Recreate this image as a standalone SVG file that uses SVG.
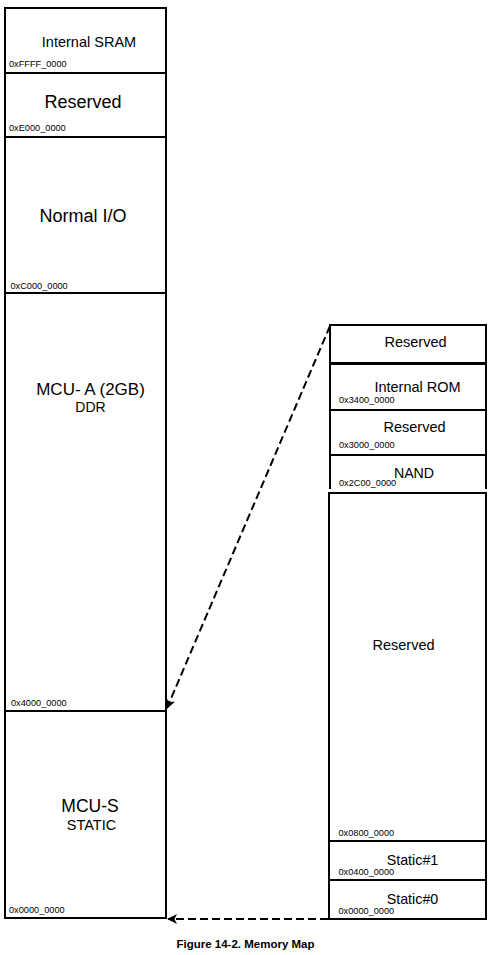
<svg xmlns="http://www.w3.org/2000/svg" width="491" height="955" viewBox="0 0 491 955">
<style>
.box{fill:#fff;stroke:#000;stroke-width:2}
.t{font-family:"Liberation Sans",Arial,sans-serif;fill:#000;text-anchor:middle}
.a{font-family:"Liberation Sans",Arial,sans-serif;fill:#000;font-size:9.2px}
.c{fill:none;stroke:#000;stroke-width:2;stroke-dasharray:8 4}
</style>
<defs>
<marker id="ah" markerWidth="10" markerHeight="10" refX="9" refY="5" orient="auto" markerUnits="userSpaceOnUse">
<path d="M0,0 L10,5 L0,10 L2.5,5 Z" fill="#000"/>
</marker>
</defs>
<rect width="491" height="955" fill="#fff"/>
<g id="left-sram"><rect class="box" x="5" y="8" width="161" height="65"/><text class="t" x="89" y="47" font-size="14.5">Internal SRAM</text><text class="a" x="9" y="67">0xFFFF_0000</text></g>
<g id="left-reserved"><rect class="box" x="5" y="73" width="161" height="64"/><text class="t" x="83" y="108" font-size="18">Reserved</text><text class="a" x="9" y="131">0xE000_0000</text></g>
<g id="left-normalio"><rect class="box" x="5" y="137" width="161" height="156"/><text class="t" x="83" y="222" font-size="18">Normal I/O</text><text class="a" x="10.5" y="289">0xC000_0000</text></g>
<g id="left-mcua"><rect class="box" x="5" y="293" width="161" height="418"/><text class="t" x="90.5" y="395" font-size="17">MCU- A (2GB)</text><text class="t" x="90.5" y="412" font-size="14">DDR</text><text class="a" x="11" y="706">0x4000_0000</text></g>
<g id="left-mcus"><rect class="box" x="5" y="711" width="161" height="207"/><text class="t" x="90" y="812" font-size="17.5">MCU-S</text><text class="t" x="91.5" y="830" font-size="14.5">STATIC</text><text class="a" x="9" y="913">0x0000_0000</text></g>

<g id="right-reserved-top"><rect class="box" x="330" y="325" width="156" height="38"/><text class="t" x="415.5" y="347" font-size="14.5">Reserved</text></g>
<g id="right-rom"><rect class="box" x="330" y="364" width="156" height="46"/><text class="t" x="417.5" y="392" font-size="14.5">Internal ROM</text><text class="a" x="339" y="403">0x3400_0000</text></g>
<g id="right-reserved2"><rect class="box" x="330" y="410" width="156" height="45"/><text class="t" x="414.5" y="432" font-size="14.5">Reserved</text><text class="a" x="339" y="448">0x3000_0000</text></g>
<g id="right-nand"><path d="M330,455 H486 M330,455 V489 M486,455 V489" fill="none" stroke="#000" stroke-width="2"/><text class="t" x="414" y="478" font-size="14.2">NAND</text><text class="a" x="339" y="485.5">0x2C00_0000</text></g>
<g id="right-reserved-big"><rect class="box" x="329" y="493" width="157" height="348"/><text class="t" x="403.5" y="650" font-size="14.5">Reserved</text><text class="a" x="338.5" y="836">0x0800_0000</text></g>
<g id="right-static1"><rect class="box" x="329" y="841" width="157" height="39"/><text class="t" x="412.5" y="865" font-size="14.3">Static#1</text><text class="a" x="338.5" y="875">0x0400_0000</text></g>
<g id="right-static0"><rect class="box" x="329" y="880" width="157" height="39"/><text class="t" x="412.5" y="903.5" font-size="14.3">Static#0</text><text class="a" x="338.5" y="913.5">0x0000_0000</text></g>

<g id="connectors">
<path class="c" d="M330,326 L167,708" marker-end="url(#ah)"/>
<path class="c" d="M328,919 L168,919" marker-end="url(#ah)"/>
</g>
<text x="245.5" y="947.5" font-family="Liberation Sans,Arial,sans-serif" font-weight="bold" font-size="11.5" text-anchor="middle" fill="#000">Figure 14-2. Memory Map</text>
</svg>
